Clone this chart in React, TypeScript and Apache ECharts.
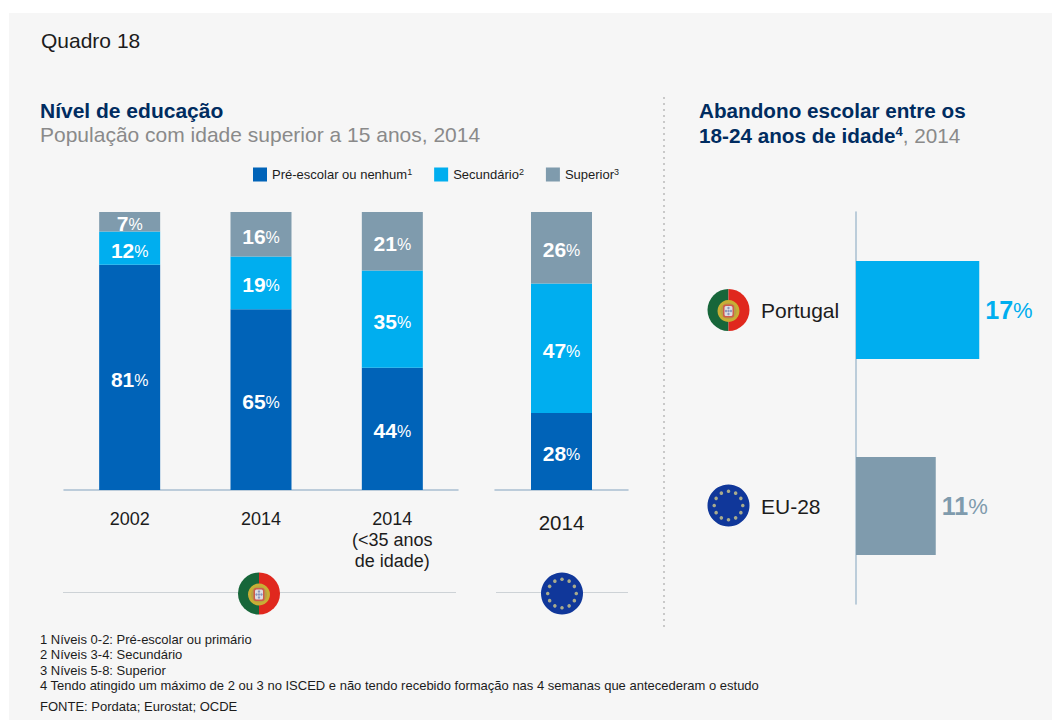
import React, { useEffect, useRef } from "react";
import * as echarts from "echarts";

// Education levels, Portugal
const ptCategories = ["2002", "2014", "2014\n(<35 anos\nde idade)"];
const ptBasic = [81, 65, 44];
const ptSecondary = [12, 19, 35];
const ptHigher = [7, 16, 21];

// Education levels, EU-28 (published shares round to 101)
const euCategories = ["2014"];
const euBasic = [28];
const euSecondary = [47];
const euHigher = [26];

// School dropout, ages 18-24
const dropoutCategories = ["Portugal", "EU-28"];
const dropoutValues = [17, 11];

const footnotes = [
  "1 Níveis 0-2: Pré-escolar ou primário",
  "2 Níveis 3-4: Secundário",
  "3 Níveis 5-8: Superior",
  "4 Tendo atingido um máximo de 2 ou 3 no ISCED e não tendo recebido formação nas 4 semanas que antecederam o estudo",
];
const sourceNote = "FONTE: Pordata; Eurostat; OCDE";

const FONT = '"Liberation Sans", Arial, sans-serif';
const DARK_BLUE = "#0063b8";
const LIGHT_BLUE = "#00aeef";
const SLATE = "#7f9bad";
const NAVY = "#002c60";
const AXIS = "#a9bfd1";
const RULE = "#cdd2d6";
const GREY_TEXT = "#8a8a8a";
const INK = "#1c1c1c";

const NAMES = { basic: "Pré-escolar ou nenhum", secondary: "Secundário", higher: "Superior" };
const NOTE_MARK: Record<string, string> = {
  [NAMES.basic]: "1",
  [NAMES.secondary]: "2",
  [NAMES.higher]: "3",
};

const barLabel = {
  show: true,
  position: "inside" as const,
  offset: [0, 2],
  formatter: (p: any) => `{v|${p.value}}{u|%}`,
  rich: {
    v: { fontFamily: FONT, fontSize: 21, fontWeight: "bold", color: "#fff" },
    u: { fontFamily: FONT, fontSize: 16, color: "#fff", padding: [2, 0, 0, 0] },
  },
};

function stackSeries(name: string, data: number[], color: string, stack: string, axisIndex: number) {
  return {
    type: "bar",
    name,
    data,
    stack,
    barWidth: 61,
    xAxisIndex: axisIndex,
    yAxisIndex: axisIndex,
    itemStyle: { color },
    label: barLabel,
  };
}

function portugalFlag(x: number, y: number, r: number) {
  const k = r / 21;
  return {
    type: "group",
    x,
    y,
    children: [
      { type: "sector", shape: { cx: 0, cy: 0, r, r0: 0, startAngle: Math.PI / 2, endAngle: (3 * Math.PI) / 2 }, style: { fill: "#17663a" } },
      { type: "sector", shape: { cx: 0, cy: 0, r, r0: 0, startAngle: (3 * Math.PI) / 2, endAngle: (5 * Math.PI) / 2 }, style: { fill: "#e0281e" } },
      { type: "circle", shape: { cx: 0, cy: 1, r: 11 * k }, style: { fill: "#c9ae35" } },
      { type: "circle", shape: { cx: 0, cy: 1, r: 8 * k }, style: { fill: "#b8a044" } },
      { type: "rect", shape: { x: -5.5 * k, y: -5.5 * k, width: 11 * k, height: 13 * k, r: 2.5 * k }, style: { fill: "#cf5a4c" } },
      { type: "rect", shape: { x: -4 * k, y: -4 * k, width: 8 * k, height: 10 * k, r: 1.5 * k }, style: { fill: "#dcdde4" } },
      { type: "circle", shape: { cx: 0, cy: 1, r: 1.2 * k }, style: { fill: "#8a94bc" } },
      { type: "circle", shape: { cx: 0, cy: -2, r: 1.2 * k }, style: { fill: "#8a94bc" } },
      { type: "circle", shape: { cx: 0, cy: 4, r: 1.2 * k }, style: { fill: "#8a94bc" } },
      { type: "circle", shape: { cx: -2.5 * k, cy: 1, r: 1.2 * k }, style: { fill: "#8a94bc" } },
      { type: "circle", shape: { cx: 2.5 * k, cy: 1, r: 1.2 * k }, style: { fill: "#8a94bc" } },
    ],
  };
}

function euFlag(x: number, y: number, r: number) {
  const ring = r * 0.68;
  const stars = Array.from({ length: 12 }, (_, i) => {
    const a = (i * Math.PI) / 6;
    return {
      type: "circle",
      shape: { cx: ring * Math.cos(a), cy: ring * Math.sin(a), r: r * 0.085 },
      style: { fill: "#a9ab8c" },
    };
  });
  return {
    type: "group",
    x,
    y,
    children: [{ type: "circle", shape: { cx: 0, cy: 0, r }, style: { fill: "#10379a" } }, ...stars],
  };
}

function plainText(x: number, y: number, text: string, fontSize: number, color: string, fontWeight = "normal") {
  return {
    type: "text",
    x,
    y,
    style: { text, fontFamily: FONT, fontSize, fontWeight, fill: color, textVerticalAlign: "middle" },
  };
}

export default function App() {
  const ref = useRef<HTMLDivElement>(null);

  useEffect(() => {
    document.body.style.margin = "0";
    const chart = echarts.init(ref.current!, null, { renderer: "svg" });

    const option: any = {
      animation: false,
      backgroundColor: "transparent",
      textStyle: { fontFamily: FONT },
      legend: {
        left: 253,
        top: 167,
        padding: 0,
        itemWidth: 14,
        itemHeight: 14,
        itemGap: 22,
        icon: "rect",
        selectedMode: false,
        data: [NAMES.basic, NAMES.secondary, NAMES.higher],
        formatter: (name: string) => `{t|${name}}{s|${NOTE_MARK[name]}}`,
        textStyle: {
          rich: {
            t: { fontFamily: FONT, fontSize: 13, color: INK },
            s: { fontFamily: FONT, fontSize: 9, color: INK, padding: [0, 0, 6, 0] },
          },
        },
      },
      grid: [
        { left: 64, top: 212, width: 394, height: 278 },
        { left: 495, top: 212, width: 133, height: 278 },
        { left: 856, top: 212, width: 145, height: 392 },
      ],
      xAxis: [
        {
          type: "category",
          gridIndex: 0,
          data: ptCategories,
          axisLine: { lineStyle: { color: AXIS, width: 1.5 } },
          axisTick: { show: false },
          axisLabel: { fontFamily: FONT, fontSize: 18, color: INK, lineHeight: 21, margin: 18, interval: 0, verticalAlign: "top" },
        },
        {
          type: "category",
          gridIndex: 1,
          data: euCategories,
          axisLine: { lineStyle: { color: AXIS, width: 1.5 } },
          axisTick: { show: false },
          axisLabel: { fontFamily: FONT, fontSize: 20.5, color: INK, margin: 22 },
        },
        { type: "value", gridIndex: 2, min: 0, max: 20, show: false },
      ],
      yAxis: [
        { type: "value", gridIndex: 0, min: 0, max: 100, show: false },
        { type: "value", gridIndex: 1, min: 0, max: 101, show: false },
        {
          type: "category",
          gridIndex: 2,
          inverse: true,
          data: dropoutCategories,
          axisLine: { lineStyle: { color: AXIS, width: 1.5 } },
          axisTick: { show: false },
          axisLabel: { fontFamily: FONT, fontSize: 21, color: INK, margin: 95, align: "left" },
        },
      ],
      series: [
        stackSeries(NAMES.basic, ptBasic, DARK_BLUE, "pt", 0),
        stackSeries(NAMES.secondary, ptSecondary, LIGHT_BLUE, "pt", 0),
        stackSeries(NAMES.higher, ptHigher, SLATE, "pt", 0),
        stackSeries(NAMES.basic, euBasic, DARK_BLUE, "eu", 1),
        stackSeries(NAMES.secondary, euSecondary, LIGHT_BLUE, "eu", 1),
        stackSeries(NAMES.higher, euHigher, SLATE, "eu", 1),
        {
          type: "bar",
          name: "Abandono escolar",
          xAxisIndex: 2,
          yAxisIndex: 2,
          barWidth: 98,
          data: dropoutValues.map((value, i) => ({
            value,
            itemStyle: { color: i === 0 ? LIGHT_BLUE : SLATE },
            label: {
              show: true,
              position: "right",
              distance: 6,
              formatter: `{v${i}|${value}}{u${i}|%}`,
              rich: {
                v0: { fontFamily: FONT, fontSize: 25, fontWeight: "bold", color: LIGHT_BLUE },
                u0: { fontFamily: FONT, fontSize: 22, color: LIGHT_BLUE },
                v1: { fontFamily: FONT, fontSize: 25, fontWeight: "bold", color: SLATE },
                u1: { fontFamily: FONT, fontSize: 22, color: SLATE },
              },
            },
          })),
        },
      ],
      graphic: {
        elements: [
          { type: "rect", z: -10, silent: true, shape: { x: 9, y: 13, width: 1043, height: 707 }, style: { fill: "#f6f6f6" } },
          plainText(41, 40, "Quadro 18", 21, INK),
          plainText(40, 110, "Nível de educação", 21, NAVY, "bold"),
          plainText(40, 134, "População com idade superior a 15 anos, 2014", 21, GREY_TEXT),
          plainText(699, 110, "Abandono escolar entre os", 20.7, NAVY, "bold"),
          {
            type: "text",
            x: 699,
            y: 135,
            style: {
              text: "{b|18-24 anos de idade}{s|4}{g|, 2014}",
              textVerticalAlign: "middle",
              rich: {
                b: { fontFamily: FONT, fontSize: 20.7, fontWeight: "bold", fill: NAVY, color: NAVY },
                s: { fontFamily: FONT, fontSize: 13, fontWeight: "bold", fill: NAVY, color: NAVY, padding: [0, 0, 8, 0] },
                g: { fontFamily: FONT, fontSize: 20.7, fill: GREY_TEXT, color: GREY_TEXT },
              },
            },
          },
          {
            type: "line",
            shape: { x1: 664, y1: 97, x2: 664, y2: 630 },
            style: { stroke: "#c9c9c9", lineWidth: 2, lineDash: [2, 4] },
          },
          { type: "line", shape: { x1: 63, y1: 592.5, x2: 456, y2: 592.5 }, style: { stroke: RULE, lineWidth: 1 } },
          { type: "line", shape: { x1: 496, y1: 592.5, x2: 628, y2: 592.5 }, style: { stroke: RULE, lineWidth: 1 } },
          portugalFlag(259, 593.5, 21),
          euFlag(562, 593.5, 21),
          portugalFlag(728.5, 310, 21),
          euFlag(728.5, 505.5, 21),
          plainText(40, 639, footnotes[0], 13, INK),
          plainText(40, 654, footnotes[1], 13, INK),
          plainText(40, 670, footnotes[2], 13, INK),
          plainText(40, 685, footnotes[3], 13, INK),
          plainText(40, 706, sourceNote, 13, INK),
        ],
      },
    };

    chart.setOption(option);
    return () => chart.dispose();
  }, []);

  return <div ref={ref} style={{ position: "absolute", left: 0, top: 0, width: 1052, height: 720 }} />;
}
